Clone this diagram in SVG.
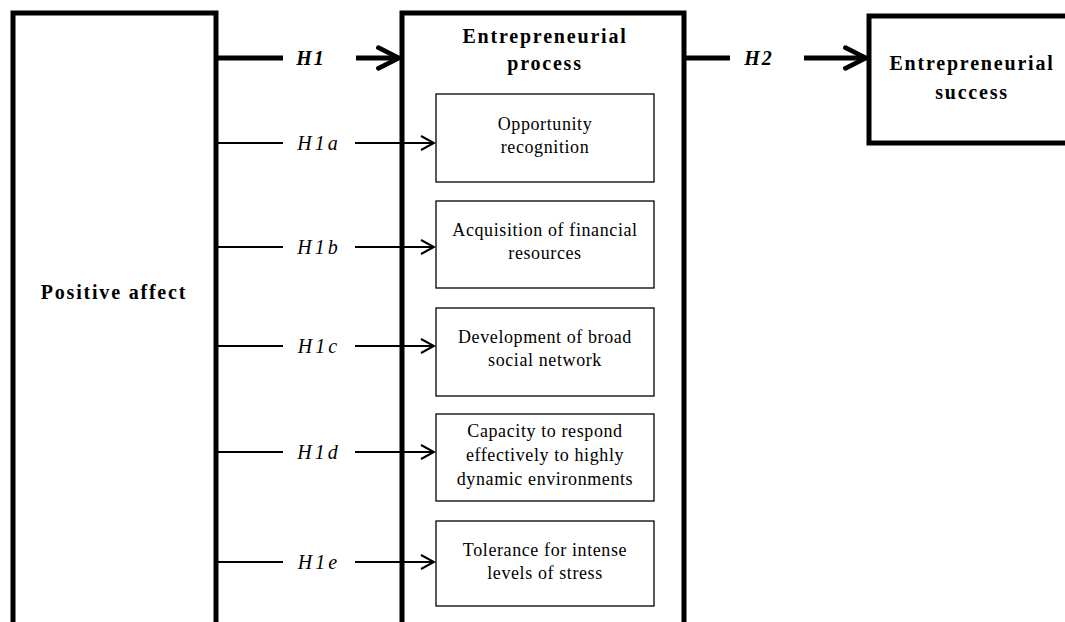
<svg xmlns="http://www.w3.org/2000/svg" width="1065" height="622" viewBox="0 0 1065 622">
<style>
.big{fill:#fff;stroke:#000;stroke-width:5}
.sub{fill:#fff;stroke:#000;stroke-width:1.3}
.title{font-family:"Liberation Serif",serif;font-weight:bold;font-size:20px;letter-spacing:1.8px;text-anchor:middle}
.txt{font-family:"Liberation Serif",serif;font-size:18px;letter-spacing:0.6px;text-anchor:middle}
.hl{font-family:"Liberation Serif",serif;font-style:italic;font-size:20px;letter-spacing:3px;text-anchor:middle}
.hb{font-family:"Liberation Serif",serif;font-style:italic;font-weight:bold;font-size:20px;letter-spacing:2px;text-anchor:middle}
.thick{stroke:#000;stroke-width:5;fill:none}
.thin{stroke:#000;stroke-width:2;fill:none}
</style>
<defs>
<marker id="ah" markerUnits="userSpaceOnUse" markerWidth="30" markerHeight="30" viewBox="-30 -15 32 30" refX="0" refY="0" orient="auto">
<polyline points="-22,-11 0,0 -22,11" fill="none" stroke="#000" stroke-width="5" stroke-linecap="round" stroke-linejoin="miter"/>
</marker>
<marker id="at" markerUnits="userSpaceOnUse" markerWidth="20" markerHeight="20" viewBox="-18 -10 20 20" refX="0" refY="0" orient="auto">
<polyline points="-13,-7 0,0 -13,7" fill="none" stroke="#000" stroke-width="2"/>
</marker>
</defs>
<g id="positive-affect">
<rect class="big" x="13" y="13" width="203" height="620"/>
<text class="title" x="114" y="299">Positive affect</text>
</g>
<g id="entrepreneurial-process">
<rect class="big" x="402" y="13" width="282" height="620"/>
<text class="title" x="545" y="43">Entrepreneurial</text>
<text class="title" x="545" y="70">process</text>
</g>
<g id="entrepreneurial-success">
<rect class="big" x="869" y="16" width="210" height="127"/>
<text class="title" x="972" y="70">Entrepreneurial</text>
<text class="title" x="972" y="99">success</text>
</g>
<g id="opportunity">
<rect class="sub" x="436" y="94" width="218" height="88"/>
<text class="txt" x="545" y="130">Opportunity</text>
<text class="txt" x="545" y="153">recognition</text>
</g>
<g id="financial">
<rect class="sub" x="436" y="201" width="218" height="87"/>
<text class="txt" x="545" y="236">Acquisition of financial</text>
<text class="txt" x="545" y="259">resources</text>
</g>
<g id="network">
<rect class="sub" x="436" y="308" width="218" height="88"/>
<text class="txt" x="545" y="343">Development of broad</text>
<text class="txt" x="545" y="366">social network</text>
</g>
<g id="capacity">
<rect class="sub" x="436" y="414" width="218" height="87"/>
<text class="txt" x="545" y="437">Capacity to respond</text>
<text class="txt" x="545" y="461">effectively to highly</text>
<text class="txt" x="545" y="485">dynamic environments</text>
</g>
<g id="tolerance">
<rect class="sub" x="436" y="521" width="218" height="85"/>
<text class="txt" x="545" y="556">Tolerance for intense</text>
<text class="txt" x="545" y="579">levels of stress</text>
</g>
<g id="connectors">
<line class="thick" x1="216" y1="58" x2="283" y2="58"/>
<line class="thick" x1="356" y1="58" x2="399" y2="58" marker-end="url(#ah)"/>
<text class="hb" x="311" y="65">H1</text>
<line class="thick" x1="684" y1="58" x2="730" y2="58"/>
<line class="thick" x1="804" y1="58" x2="866" y2="58" marker-end="url(#ah)"/>
<text class="hb" x="759" y="65">H2</text>
<line class="thin" x1="216" y1="143" x2="283" y2="143"/>
<line class="thin" x1="355" y1="143" x2="434" y2="143" marker-end="url(#at)"/>
<text class="hl" x="319" y="150">H1a</text>
<line class="thin" x1="216" y1="247" x2="283" y2="247"/>
<line class="thin" x1="355" y1="247" x2="434" y2="247" marker-end="url(#at)"/>
<text class="hl" x="319" y="254">H1b</text>
<line class="thin" x1="216" y1="346" x2="283" y2="346"/>
<line class="thin" x1="355" y1="346" x2="434" y2="346" marker-end="url(#at)"/>
<text class="hl" x="319" y="353">H1c</text>
<line class="thin" x1="216" y1="452" x2="283" y2="452"/>
<line class="thin" x1="355" y1="452" x2="434" y2="452" marker-end="url(#at)"/>
<text class="hl" x="319" y="459">H1d</text>
<line class="thin" x1="216" y1="562" x2="283" y2="562"/>
<line class="thin" x1="355" y1="562" x2="434" y2="562" marker-end="url(#at)"/>
<text class="hl" x="319" y="569">H1e</text>
</g>
</svg>
